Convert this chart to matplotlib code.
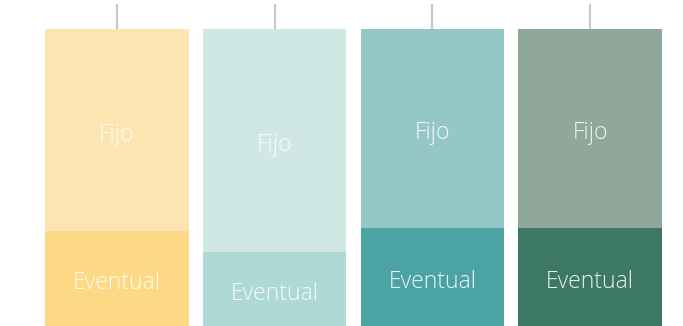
import matplotlib.pyplot as plt
import numpy as np

# share of each contract type per group (percent)
groups = ['A', 'B', 'C', 'D']
eventual = [32, 25, 33, 33]
fijo = [68, 75, 67, 67]

eventual_colors = ['#FDD985', '#AED9D4', '#4BA3A4', '#3D7866']
fijo_colors = ['#FDE5B2', '#D0E8E4', '#95C7C8', '#8FA899']

fig = plt.figure(figsize=(6.83, 3.26), dpi=100)
ax = fig.add_axes([0, 0, 1, 297 / 326])

x = np.arange(len(groups))
ax.bar(x, eventual, width=0.91, color=eventual_colors)
ax.bar(x, fijo, bottom=eventual, width=0.91, color=fijo_colors)

txt = dict(ha='center', va='center', color='white', alpha=0.9, fontsize=16.5,
           family='Open Sans', fontweight='light',
           textcoords='offset points', xytext=(0, -3.5))
for i in range(len(groups)):
    ax.annotate('Eventual', (x[i], eventual[i] / 2), **txt)
    ax.annotate('Fijo', (x[i], eventual[i] + fijo[i] / 2), **txt)

ax.set_xlim(-116.8 / 157.8, (683 - 116.8) / 157.8)
ax.set_ylim(0, 100)
ax.set_xticks(x)
ax.set_xticklabels([])
ax.set_yticks([])
ax.xaxis.tick_top()
ax.tick_params(axis='x', length=18, width=1.5, color='#C8C8C8', direction='out')
for s in ax.spines.values():
    s.set_visible(False)

fig.savefig('out.png', dpi=100)
